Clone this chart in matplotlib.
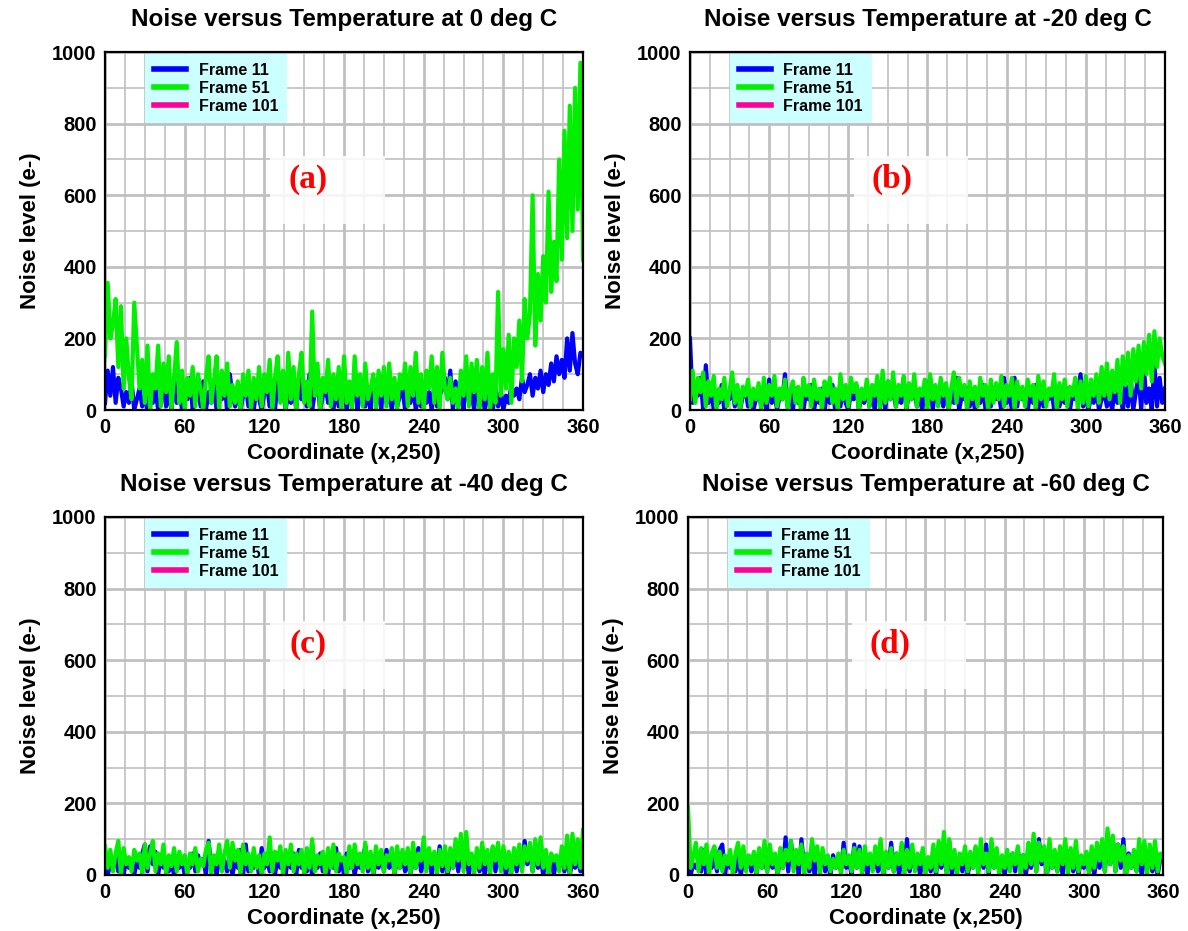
import matplotlib.pyplot as plt
import numpy as np
from matplotlib.lines import Line2D
from matplotlib.patches import Rectangle
from matplotlib.ticker import MultipleLocator

plt.rcParams["font.family"] = ["Liberation Sans", "DejaVu Sans"]
plt.rcParams["font.weight"] = "bold"

# coordinate along row 250 (sampled every 2 px)
coord = np.arange(0, 361, 2)

titles = ["Noise versus Temperature at 0 deg C",
          "Noise versus Temperature at -20 deg C",
          "Noise versus Temperature at -40 deg C",
          "Noise versus Temperature at -60 deg C"]
tags = ["(a)", "(b)", "(c)", "(d)"]
legend_labels = ["Frame 11", "Frame 51", "Frame 101"]
x_ticks = [0, 60, 120, 180, 240, 300, 360]
y_ticks = [0, 200, 400, 600, 800, 1000]

# panel (a) 0 deg C
frame11_0c = [20, 110, 40, 120, 20, 90, 60, 10, 50, 20,
              80, 0, 30, 60, 10, 40, 0, 50, 20, 60,
              0, 30, 70, 10, 50, 0, 90, 20, 60, 0,
              70, 30, 90, 0, 40, 60, 10, 80, 0, 50,
              20, 70, 0, 60, 30, 80, 0, 100, 40, 10,
              60, 0, 40, 70, 10, 50, 0, 60, 30, 0,
              50, 70, 10, 40, 0, 80, 30, 60, 0, 50,
              20, 70, 0, 90, 30, 60, 10, 100, 0, 50,
              80, 0, 40, 70, 20, 50, 0, 60, 10, 40,
              70, 0, 50, 20, 90, 0, 40, 60, 10, 50,
              0, 90, 30, 60, 0, 100, 20, 50, 0, 70,
              10, 40, 60, 0, 50, 20, 70, 0, 40, 10,
              60, 20, 50, 0, 70, 10, 40, 60, 90, 30,
              110, 0, 80, 10, 60, 0, 110, 20, 50, 0,
              100, 10, 60, 0, 40, 20, 0, 60, 10, 50,
              0, 40, 20, 70, 40, 60, 30, 90, 50, 70,
              100, 40, 90, 60, 110, 50, 100, 70, 130, 80,
              150, 100, 140, 90, 200, 110, 215, 130, 100, 160,
              150]
frame51_0c = [150, 355, 200, 240, 310, 120, 290, 60, 200, 90,
              30, 300, 180, 60, 140, 20, 180, 0, 100, 60,
              180, 10, 130, 50, 150, 0, 90, 190, 20, 110,
              0, 90, 40, 120, 10, 100, 60, 0, 90, 150,
              20, 80, 150, 0, 110, 40, 130, 10, 70, 20,
              80, 0, 100, 40, 110, 0, 90, 30, 120, 10,
              100, 50, 140, 0, 90, 150, 20, 110, 0, 160,
              30, 120, 0, 100, 160, 20, 80, 10, 275, 40,
              130, 0, 90, 50, 140, 10, 100, 30, 120, 0,
              150, 20, 80, 0, 150, 40, 100, 10, 130, 30,
              60, 100, 0, 110, 40, 120, 10, 130, 30, 90,
              0, 100, 60, 130, 10, 120, 40, 160, 20, 100,
              0, 110, 60, 150, 20, 120, 0, 160, 60, 30,
              90, 20, 60, 0, 110, 40, 150, 10, 130, 50,
              140, 0, 120, 30, 160, 0, 100, 20, 330, 40,
              170, 60, 210, 20, 200, 120, 250, 80, 310, 200,
              270, 600, 180, 380, 250, 430, 300, 610, 330, 470,
              360, 700, 420, 780, 480, 850, 500, 900, 560, 970,
              420]

# panel (b) -20 deg C
frame11_m20 = [200, 20, 60, 40, 90, 0, 125, 20, 60, 0,
               50, 20, 70, 0, 40, 30, 60, 10, 50, 0,
               40, 60, 10, 50, 0, 30, 50, 10, 40, 0,
               85, 20, 50, 0, 40, 30, 100, 10, 50, 0,
               60, 20, 40, 0, 50, 30, 70, 0, 40, 20,
               60, 0, 50, 20, 70, 0, 40, 10, 60, 20,
               0, 50, 30, 70, 0, 40, 20, 60, 10, 50,
               0, 70, 20, 50, 0, 80, 30, 60, 10, 40,
               20, 90, 0, 50, 30, 60, 10, 40, 0, 50,
               30, 90, 0, 60, 20, 40, 10, 70, 0, 50,
               20, 90, 0, 40, 30, 60, 10, 50, 0, 40,
               20, 70, 0, 50, 10, 60, 30, 40, 0, 90,
               20, 50, 0, 90, 10, 60, 30, 40, 0, 50,
               20, 70, 0, 50, 10, 40, 30, 60, 0, 50,
               10, 40, 20, 60, 0, 50, 30, 40, 100, 10,
               50, 0, 40, 20, 60, 0, 30, 50, 10, 40,
               0, 60, 20, 50, 0, 70, 10, 90, 0, 50,
               100, 0, 120, 20, 60, 0, 130, 10, 90, 20,
               60]
frame51_m20 = [30, 110, 20, 90, 50, 105, 10, 80, 40, 95,
               0, 60, 30, 90, 10, 55, 105, 20, 70, 0,
               65, 40, 85, 10, 60, 30, 75, 0, 90, 20,
               70, 40, 95, 10, 60, 30, 85, 0, 55, 80,
               20, 65, 0, 90, 40, 70, 10, 85, 30, 60,
               0, 80, 40, 90, 20, 60, 0, 100, 30, 70,
               10, 90, 50, 75, 0, 60, 30, 85, 10, 70,
               40, 95, 0, 110, 20, 80, 30, 105, 10, 70,
               40, 95, 0, 75, 30, 100, 10, 60, 40, 85,
               0, 100, 30, 70, 10, 90, 40, 75, 0, 60,
               105, 20, 90, 40, 70, 0, 80, 30, 65, 10,
               90, 40, 70, 0, 85, 20, 75, 30, 95, 10,
               70, 40, 90, 0, 80, 30, 65, 10, 85, 40,
               70, 0, 95, 30, 80, 10, 60, 40, 100, 0,
               75, 30, 85, 10, 65, 40, 90, 0, 80, 20,
               95, 10, 85, 40, 100, 20, 120, 40, 130, 30,
               110, 50, 140, 20, 150, 70, 160, 40, 170, 80,
               180, 60, 190, 100, 210, 80, 220, 120, 200, 150,
               130]

# panel (c) -40 deg C
frame11_m40 = [40, 0, 30, 20, 50, 10, 40, 0, 45, 20,
               35, 0, 40, 20, 60, 85, 10, 80, 30, 65,
               0, 50, 20, 45, 10, 35, 0, 40, 20, 45,
               0, 40, 20, 60, 10, 55, 30, 45, 0, 95,
               20, 50, 0, 45, 20, 40, 10, 50, 0, 45,
               20, 70, 0, 85, 10, 50, 20, 40, 0, 75,
               20, 50, 10, 45, 0, 50, 20, 40, 0, 55,
               20, 60, 0, 70, 20, 45, 10, 50, 0, 40,
               20, 60, 10, 50, 0, 60, 20, 75, 10, 45,
               0, 60, 20, 45, 0, 40, 20, 45, 80, 10,
               55, 0, 40, 20, 60, 10, 70, 20, 55, 0,
               50, 20, 45, 10, 40, 0, 50, 20, 75, 10,
               40, 20, 55, 0, 45, 20, 80, 10, 55, 0,
               40, 20, 60, 10, 70, 20, 55, 0, 50, 20,
               45, 10, 40, 0, 50, 20, 75, 10, 60, 20,
               50, 0, 45, 20, 60, 10, 50, 20, 95, 30,
               70, 10, 70, 20, 50, 0, 40, 20, 50, 0,
               45, 20, 60, 10, 50, 0, 40, 20, 45, 10,
               40]
frame51_m40 = [80, 20, 70, 10, 60, 95, 0, 75, 30, 50,
               10, 70, 40, 60, 0, 85, 20, 60, 95, 10,
               60, 30, 85, 0, 55, 25, 75, 10, 65, 30,
               55, 0, 60, 30, 75, 10, 45, 25, 70, 90,
               0, 55, 30, 85, 10, 60, 95, 20, 90, 40,
               70, 0, 85, 30, 60, 10, 75, 20, 55, 0,
               60, 30, 105, 10, 65, 40, 80, 0, 70, 30,
               85, 10, 60, 30, 70, 0, 75, 20, 100, 10,
               55, 30, 65, 0, 75, 20, 85, 10, 60, 40,
               50, 0, 80, 20, 85, 30, 60, 10, 90, 20,
               65, 0, 80, 30, 70, 10, 55, 40, 75, 0,
               80, 20, 70, 30, 75, 0, 90, 20, 60, 40,
               105, 10, 75, 30, 65, 0, 70, 25, 80, 10,
               75, 20, 100, 40, 115, 10, 120, 30, 60, 0,
               75, 20, 90, 30, 70, 0, 80, 40, 90, 10,
               80, 20, 65, 0, 75, 30, 85, 10, 80, 40,
               90, 10, 100, 30, 105, 20, 70, 0, 60, 40,
               55, 10, 80, 20, 110, 0, 115, 30, 100, 20,
               125]

# panel (d) -60 deg C
frame11_m60 = [50, 0, 30, 20, 40, 10, 70, 0, 40, 20,
               50, 10, 70, 85, 0, 50, 20, 40, 10, 50,
               0, 40, 20, 50, 10, 40, 0, 70, 20, 45,
               10, 60, 20, 40, 0, 50, 20, 105, 10, 95,
               30, 50, 0, 100, 20, 45, 10, 50, 0, 40,
               20, 50, 10, 40, 0, 55, 20, 40, 10, 90,
               20, 40, 0, 85, 20, 80, 10, 45, 0, 50,
               20, 45, 10, 50, 0, 55, 20, 90, 10, 60,
               0, 45, 20, 100, 10, 50, 20, 40, 0, 50,
               20, 40, 10, 60, 0, 75, 20, 55, 10, 95,
               0, 45, 20, 40, 10, 55, 0, 40, 20, 75,
               10, 60, 20, 85, 0, 90, 20, 50, 10, 45,
               0, 40, 20, 60, 10, 70, 20, 55, 0, 45,
               20, 85, 10, 100, 30, 60, 0, 45, 20, 40,
               10, 50, 0, 60, 20, 70, 10, 50, 0, 45,
               20, 40, 10, 50, 0, 60, 20, 70, 10, 115,
               30, 105, 10, 85, 20, 100, 0, 60, 20, 45,
               10, 40, 0, 50, 20, 45, 10, 40, 0, 45,
               40]
frame51_m60 = [190, 20, 50, 90, 10, 75, 30, 85, 0, 60,
               80, 20, 65, 10, 55, 30, 70, 0, 60, 90,
               20, 80, 10, 55, 30, 65, 0, 75, 20, 95,
               10, 85, 30, 60, 0, 75, 20, 70, 40, 95,
               10, 70, 30, 85, 0, 60, 20, 100, 40, 80,
               0, 75, 30, 55, 10, 45, 20, 60, 0, 70,
               30, 55, 10, 75, 20, 70, 0, 80, 30, 60,
               10, 80, 30, 100, 0, 65, 20, 75, 10, 60,
               30, 90, 0, 70, 20, 85, 10, 60, 30, 75,
               0, 50, 20, 85, 10, 95, 30, 120, 0, 100,
               20, 70, 0, 60, 30, 80, 10, 65, 20, 80,
               0, 100, 30, 60, 10, 100, 20, 75, 0, 55,
               20, 70, 10, 60, 30, 80, 0, 55, 20, 90,
               30, 115, 10, 90, 40, 80, 0, 100, 20, 70,
               10, 80, 30, 100, 0, 75, 20, 95, 10, 55,
               30, 65, 0, 80, 20, 90, 40, 100, 10, 130,
               30, 110, 10, 85, 40, 80, 0, 55, 20, 70,
               10, 100, 30, 95, 0, 85, 20, 95, 10, 60,
               50]

blue_series = [frame11_0c, frame11_m20, frame11_m40, frame11_m60]
green_series = [frame51_0c, frame51_m20, frame51_m40, frame51_m60]

line_colors = ["#0000ff", "#00f000", "#ff0099"]
grid_color = "#c0c0c0"

fig = plt.figure(figsize=(11.88, 9.31), dpi=100)
positions = [[0.0884, 0.5596, 0.4024, 0.3845],
             [0.5808, 0.5596, 0.3998, 0.3845],
             [0.0884, 0.0602, 0.4024, 0.3845],
             [0.5791, 0.0602, 0.3998, 0.3845]]

for i in range(4):
    ax = fig.add_axes(positions[i])
    ax.plot(coord, blue_series[i], color=line_colors[0], lw=3.0, zorder=3,
            solid_joinstyle="round")
    ax.plot(coord, green_series[i], color=line_colors[1], lw=3.0, zorder=4,
            solid_joinstyle="round")

    ax.set_xlim(0, 360)
    ax.set_ylim(0, 1000)
    ax.set_xticks(x_ticks)
    ax.set_yticks(y_ticks)
    ax.xaxis.set_minor_locator(MultipleLocator(15))
    ax.yaxis.set_minor_locator(MultipleLocator(100))
    ax.grid(which="major", color=grid_color, lw=2.0, zorder=0)
    ax.grid(which="minor", color=grid_color, lw=1.2, zorder=0)
    ax.set_axisbelow(True)
    ax.tick_params(which="both", length=0, labelsize=14.5, pad=6)
    for s in ax.spines.values():
        s.set_linewidth(1.6)
        s.set_zorder(6)

    ax.set_title(titles[i], fontsize=17.5, fontweight="bold", pad=19)
    ax.set_xlabel("Coordinate (x,250)", fontsize=16, fontweight="bold",
                  labelpad=4)
    ax.set_ylabel("Noise level (e-)", fontsize=16, fontweight="bold",
                  labelpad=8)

    # white patch behind the panel tag
    ax.add_patch(Rectangle((0.345, 0.52), 0.24, 0.19, transform=ax.transAxes,
                           facecolor="white", edgecolor="none", alpha=0.85,
                           zorder=1))
    ax.text(0.425, 0.645, tags[i], transform=ax.transAxes, color="red",
            fontsize=24, fontweight="bold", ha="center", va="center",
            family=["Liberation Serif", "DejaVu Serif"], zorder=2)

    handles = [Line2D([], [], color=c, lw=4) for c in line_colors]
    leg = ax.legend(handles, legend_labels, loc="upper left",
                    bbox_to_anchor=(0.084, 0.995), fontsize=11.5,
                    frameon=True, fancybox=False, handlelength=2.0,
                    handletextpad=0.8, borderpad=0.55, labelspacing=0.2,
                    borderaxespad=0)
    leg.get_frame().set_facecolor("#ccffff")
    leg.get_frame().set_edgecolor("none")
    leg.get_frame().set_alpha(1)
    leg.set_zorder(7)

fig.savefig("out.png", dpi=100, facecolor="w")
